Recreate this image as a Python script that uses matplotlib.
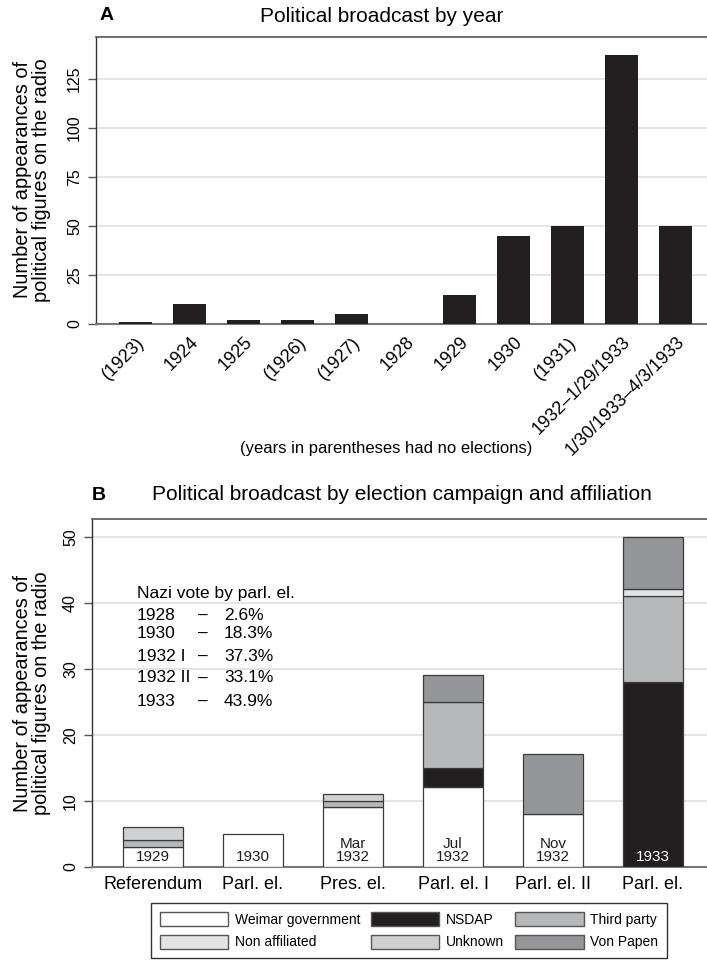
import matplotlib
matplotlib.use('Agg')
import matplotlib.pyplot as plt
from matplotlib.patches import Patch
import numpy as np

plt.rcParams['font.family'] = ['Liberation Sans', 'DejaVu Sans']

# panel A data
year_labels = ['(1923)', '1924', '1925', '(1926)', '(1927)', '1928', '1929',
               '1930', '(1931)', '1932\u20131/29/1933', '1/30/1933\u20134/3/1933']
year_counts = [1, 10, 2, 2, 5, 0, 15, 45, 50, 137, 50]

# panel B data
campaigns = ['Referendum', 'Parl. el.', 'Pres. el.', 'Parl. el. I', 'Parl. el. II', 'Parl. el.']
campaign_dates = ['1929', '1930', 'Mar\n1932', 'Jul\n1932', 'Nov\n1932', '1933']
weimar = [3, 5, 9, 12, 8, 0]
nsdap = [0, 0, 0, 3, 0, 28]
third_party = [1, 0, 1, 10, 0, 13]
non_affiliated = [0, 0, 0, 0, 0, 1]
unknown = [2, 0, 1, 0, 0, 0]
von_papen = [0, 0, 0, 4, 9, 8]

nazi_years = ['1928', '1930', '1932 I', '1932 II', '1933']
nazi_votes = ['2.6%', '18.3%', '37.3%', '33.1%', '43.9%']

series = [('Weimar government', weimar, 'white'),
          ('NSDAP', nsdap, '#231f20'),
          ('Third party', third_party, '#b7b8ba'),
          ('Non affiliated', non_affiliated, '#e2e3e4'),
          ('Unknown', unknown, '#cfd0d2'),
          ('Von Papen', von_papen, '#939598')]

W, H = 707, 963
fig = plt.figure(figsize=(W / 100, H / 100), dpi=100)


def style_axes(ax):
    ax.spines['right'].set_visible(False)
    ax.spines['top'].set_color('#555555')
    ax.spines['top'].set_linewidth(1.2)
    ax.spines['left'].set_color('#333333')
    ax.spines['left'].set_linewidth(1.0)
    ax.spines['bottom'].set_color('#777777')
    ax.spines['bottom'].set_linewidth(1.5)
    ax.yaxis.grid(True, color='#e2e2e2', linewidth=1.3)
    ax.set_axisbelow(True)
    ax.tick_params(axis='y', length=6, width=1, color='#555555', pad=4, labelsize=11.5)
    ax.tick_params(axis='x', length=0, pad=7, labelsize=13)
    for lab in ax.get_yticklabels():
        lab.set_rotation(90)
        lab.set_va('center')


# ---- panel A ----
axA = fig.add_axes([96 / W, 1 - 324 / H, (W - 96) / W, (324 - 37) / H])
xa = np.arange(len(year_counts))
axA.bar(xa, year_counts, width=0.61, color='#231f20', zorder=3)
axA.set_xlim(-0.731, 10.583)
axA.set_ylim(0, 146.25)
axA.set_yticks([0, 25, 50, 75, 100, 125])
axA.set_xticks(xa)
axA.set_xticklabels(year_labels, rotation=45, ha='right', va='top', rotation_mode='anchor')
style_axes(axA)

fig.text(100 / W, 1 - 16 / H, 'A', fontsize=14, fontweight='bold', va='center', ha='left')
fig.text(382 / W, 1 - 16 / H, 'Political broadcast by year', fontsize=15, va='center', ha='center')
fig.text(386 / W, 1 - 449 / H, '(years in parentheses had no elections)', fontsize=12,
         va='center', ha='center')
fig.text(32 / W, 1 - 180 / H, 'Number of appearances of\npolitical figures on the radio',
         rotation=90, fontsize=14.4, va='center', ha='center', linespacing=1.0)

# ---- panel B ----
axB = fig.add_axes([92 / W, 1 - 866.7 / H, (W - 92) / W, (866.7 - 519) / H])
xb = np.arange(len(campaigns))
bottom = np.zeros(len(campaigns))
for name, vals, col in series:
    vals = np.array(vals, dtype=float)
    axB.bar(xb, vals, bottom=bottom, width=0.6, color=col, edgecolor='#3a3a3a',
            linewidth=np.where(vals > 0, 0.9, 0.0), zorder=3)
    bottom += vals
axB.set_xlim(-0.61, 5.54)
axB.set_ylim(0, 52.68)
axB.set_yticks([0, 10, 20, 30, 40, 50])
axB.set_xticks(xb)
axB.set_xticklabels(campaigns)
style_axes(axB)

for i, d in enumerate(campaign_dates):
    c = 'white' if nsdap[i] > 0 and weimar[i] == 0 else '#231f20'
    axB.text(xb[i], 0.35, d, ha='center', va='bottom', fontsize=11, color=c,
             linespacing=0.95, zorder=4)

axB.text(-0.16, 41.4, 'Nazi vote by parl. el.', fontsize=12.5, va='center', ha='left')
nazi_y = [38.1, 35.3, 31.9, 28.6, 25.1]
for yr, v, yy in zip(nazi_years, nazi_votes, nazi_y):
    axB.text(-0.16, yy, yr, fontsize=12.5, va='center', ha='left')
    axB.text(0.50, yy, '\u2013', fontsize=12.5, va='center', ha='center')
    axB.text(0.71, yy, v, fontsize=12.5, va='center', ha='left')

fig.text(92 / W, 1 - 495 / H, 'B', fontsize=14, fontweight='bold', va='center', ha='left')
fig.text(402 / W, 1 - 495 / H, 'Political broadcast by election campaign and affiliation',
         fontsize=15, va='center', ha='center')
fig.text(32 / W, 1 - 693 / H, 'Number of appearances of\npolitical figures on the radio',
         rotation=90, fontsize=14.4, va='center', ha='center', linespacing=1.0)

# legend, filled column by column
order = [0, 3, 1, 4, 2, 5]
handles = [Patch(facecolor=series[k][2], edgecolor='#555555', linewidth=1.0) for k in order]
labels = [series[k][0] for k in order]
leg = fig.legend(handles, labels, ncol=3, loc='upper left',
                 bbox_to_anchor=(151 / W, 1 - 903 / H), borderaxespad=0,
                 fontsize=10, handlelength=4.9, handleheight=1.22, handletextpad=0.5,
                 columnspacing=0.8, labelspacing=0.58, fancybox=False, framealpha=1,
                 edgecolor='#333333', borderpad=0.62)
leg.get_frame().set_linewidth(1.0)

fig.savefig('out.png', dpi=100)
